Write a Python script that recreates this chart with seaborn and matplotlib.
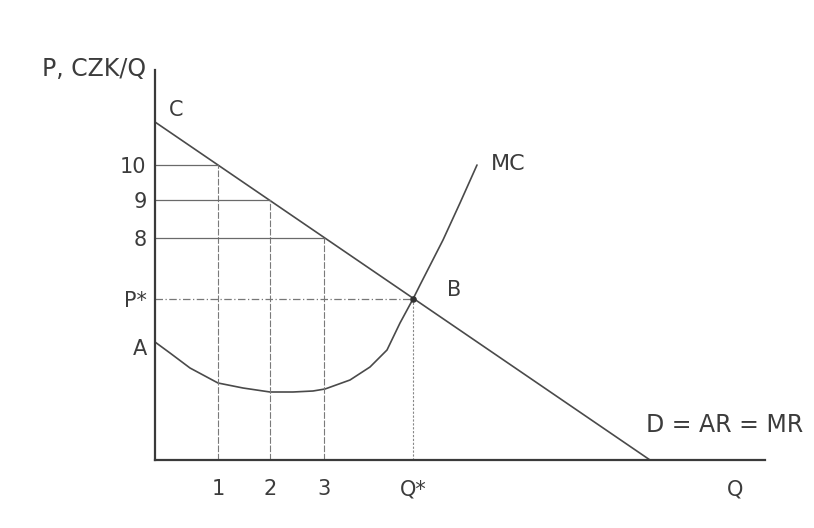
import matplotlib
matplotlib.use("Agg")
import matplotlib.pyplot as plt
import seaborn as sns
import pandas as pd

# --- DATA (arbitrary units) ---
demand_q = [0.0, 9.9]
demand_p = [6.76, 0.0]

mc_q = [0.0, 0.3, 0.7, 1.26, 1.76, 2.3, 2.76, 3.16, 3.4, 3.9, 4.3, 4.64, 4.9,
        5.16, 5.3, 5.76, 6.1, 6.44]
mc_p = [2.36, 2.14, 1.84, 1.54, 1.44, 1.36, 1.36, 1.38, 1.42, 1.6, 1.86, 2.2, 2.74,
        3.22, 3.5, 4.4, 5.14, 5.9]

grid_q = [1.26, 2.3, 3.38]          # Q = 1, 2, 3
grid_p = [5.9, 5.2, 4.44]           # P = 10, 9, 8
eq_q, eq_p = 5.16, 3.22             # point B (Q*, P*)
a_level = 2.26

x_ticks = grid_q + [eq_q, 11.6]
x_labels = ["1", "2", "3", "Q*", "Q"]
y_ticks = grid_p + [eq_p, a_level]
y_labels = ["10", "9", "8", "P*", "A"]

INK = "#3c3c3c"

sns.set_theme(style="white")
plt.rcParams["font.family"] = ["DejaVu Sans"]

fig = plt.figure(figsize=(8.14, 5.28), dpi=100)
ax = fig.add_axes([155 / 814, 68 / 528, 645 / 814, 420 / 528])

# demand and marginal cost curves
sns.lineplot(x=demand_q, y=demand_p, ax=ax, color="#4a4a4a", linewidth=1.2)
df_mc = pd.DataFrame({"q": mc_q, "p": mc_p})
sns.lineplot(data=df_mc, x="q", y="p", ax=ax, color="#4a4a4a", linewidth=1.2,
             sort=False, estimator=None)

# guide lines for 1,2,3 / 10,9,8
for q, p in zip(grid_q, grid_p):
    ax.plot([0, q], [p, p], color="#6a6a6a", linewidth=0.9)
    ax.plot([q, q], [0, p], color="#7a7a7a", linewidth=0.8, linestyle=(0, (6, 1.5)))

# equilibrium guides
ax.plot([0, eq_q], [eq_p, eq_p], color="#777777", linewidth=0.9, linestyle=(0, (6, 2, 1, 2)))
ax.plot([eq_q, eq_q], [0, eq_p], color="#888888", linewidth=0.8, linestyle=(0, (2, 1.5)))
ax.scatter([eq_q], [eq_p], s=14, color="#333333", zorder=5)

# axes
ax.set_xlim(0, 12.9)
ax.set_ylim(0, 8.4)
sns.despine(ax=ax)
ax.spines["left"].set_bounds(0, 7.8)
ax.spines["bottom"].set_bounds(0, 12.2)
for s in ["left", "bottom"]:
    ax.spines[s].set_color("#3a3a3a")
    ax.spines[s].set_linewidth(1.6)

ax.set_xticks(x_ticks)
ax.set_xticklabels(x_labels, fontsize=15, color=INK)
ax.set_yticks(y_ticks)
ax.set_yticklabels(y_labels, fontsize=15, color=INK)
ax.tick_params(axis="x", length=0, pad=14)
ax.tick_params(axis="y", length=0, pad=6)
ax.set_xlabel("")
ax.set_ylabel("")

# labels
ax.text(-1.22, 7.82, "P, CZK/Q", fontsize=17, color=INK, ha="center", va="center",
        clip_on=False)
ax.text(0.42, 7.0, "C", fontsize=15, color=INK, ha="center", va="center")
ax.text(5.98, 3.4, "B", fontsize=15, color=INK, ha="center", va="center")
ax.text(7.06, 5.92, "MC", fontsize=16, color=INK, ha="center", va="center")
ax.text(11.4, 0.7, "D = AR = MR", fontsize=17, color=INK, ha="center", va="center")

fig.savefig("out.png", dpi=100, facecolor="white")
